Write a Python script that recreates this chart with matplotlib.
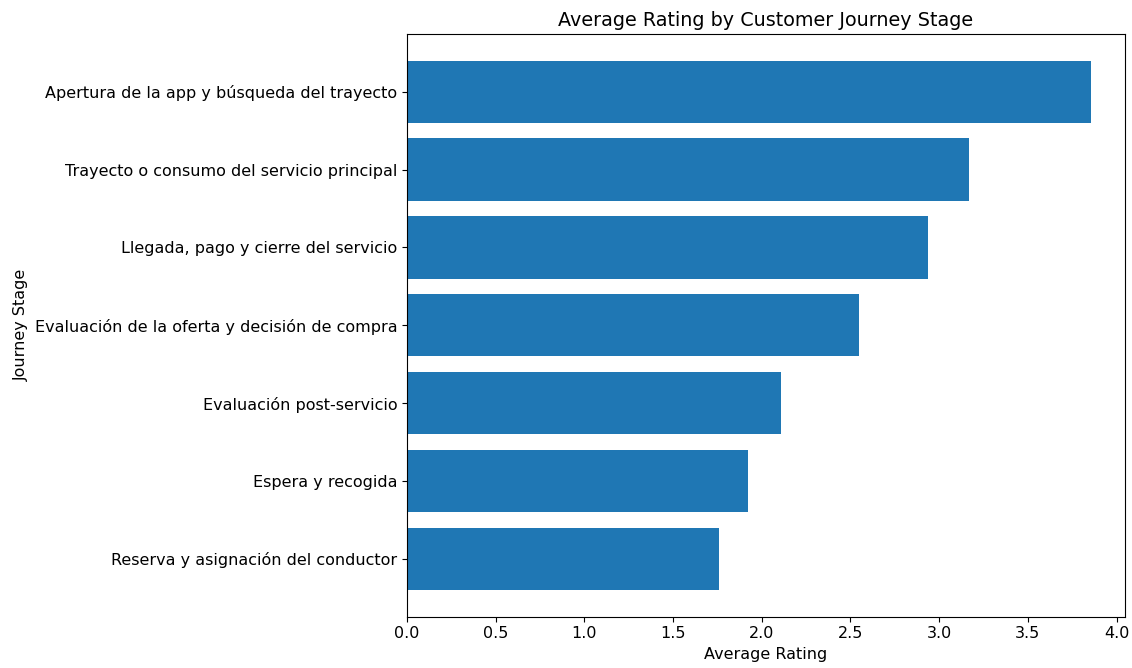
import matplotlib
matplotlib.use("Agg")
from matplotlib import pyplot as plt

# Journey stages, lowest rating first (barh draws bottom-up)
stages = [
    "Reserva y asignación del conductor",
    "Espera y recogida",
    "Evaluación post-servicio",
    "Evaluación de la oferta y decisión de compra",
    "Llegada, pago y cierre del servicio",
    "Trayecto o consumo del servicio principal",
    "Apertura de la app y búsqueda del trayecto",
]
avg_rating = [1.76, 1.92, 2.11, 2.55, 2.94, 3.17, 3.855]

plt.rcParams["font.size"] = 11.5

fig, ax = plt.subplots(figsize=(11.32, 6.68), dpi=100)
ax.barh(stages, avg_rating, color="#1f77b4")
ax.set_xlabel("Average Rating")
ax.set_ylabel("Journey Stage")
ax.set_title("Average Rating by Customer Journey Stage")
fig.subplots_adjust(left=0.3595, right=0.9938, top=0.949, bottom=0.077)
fig.savefig("out.png", dpi=100)
